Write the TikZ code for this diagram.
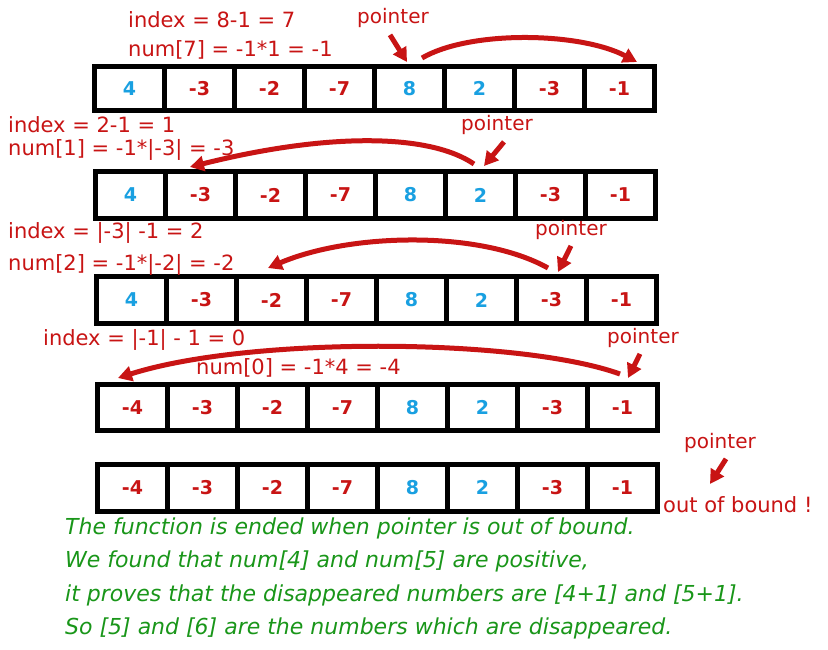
\documentclass[tikz,border=0pt]{standalone}
\usepackage{fontspec}
\setmainfont{DejaVu Sans}
\usetikzlibrary{arrows.meta}
\definecolor{annred}{RGB}{200,20,20}
\definecolor{numblue}{RGB}{25,160,225}
\definecolor{noteg}{RGB}{25,150,25}
\begin{document}
\begin{tikzpicture}[x=1pt,y=-1pt,
  cell/.style={draw, line width=5pt, minimum width=70pt, inner sep=0pt, outer sep=0pt,
    font=\bfseries\fontsize{19}{19}\selectfont},
  lbl/.style={font=\fontsize{21}{23}\selectfont, text=annred, inner sep=0pt, anchor=west},
  ptrlbl/.style={font=\fontsize{20}{22}\selectfont, text=annred, inner sep=0pt},
  ptr/.style={-{Triangle[length=14pt,width=15pt]}, line width=5pt, draw=annred},
  note/.style={font=\itshape\fontsize{22}{24}\selectfont, text=noteg, anchor=west, inner sep=0pt}]
\useasboundingbox (0,0) rectangle (828,650);
\fill[white] (0,0) rectangle (828,650);

% rows of cells
\foreach \r/\y/\h/\xl in {1/88.5/44/94.5, 2/195/47/95.5, 3/300/47/96.5}{
  \foreach \v/\c [count=\i from 0] in {4/numblue,-3/annred,-2/annred,-7/annred,8/numblue,2/numblue,-3/annred,-1/annred}{
    \node[cell, minimum height=\h pt, text=\c] (r\r c\i) at (\xl+35+70*\i, \y) {\v};
  }
}
\foreach \r/\y/\h/\xl in {4/407.5/46.5/97.5, 5/487.5/47/97.5}{
  \foreach \v/\c [count=\i from 0] in {-4/annred,-3/annred,-2/annred,-7/annred,8/numblue,2/numblue,-3/annred,-1/annred}{
    \node[cell, minimum height=\h pt, text=\c] (r\r c\i) at (\xl+35+70*\i, \y) {\v};
  }
}

% row 1 annotations
\node[lbl] (idx1) at (128,20) {index = 8-1 = 7};
\node[lbl] (num1) at (128,50) {num[7] = -1*1 = -1};
\node[ptrlbl] (ptr1) at (393,18) {pointer};
\coordinate (p1e) at (407,62);
\draw[ptr] ([shift={(-3,7)}]ptr1.south) -- (p1e);
\coordinate (c1s) at (422,58);
\coordinate (c1e) at (637,62);
\draw[ptr] (c1s) .. controls (470,30) and (580,32) .. (c1e);

% row 2 annotations
\node[lbl] (idx2) at (8,125) {index = 2-1 = 1};
\node[lbl] (num2) at (8,150) {num[1] = -1*|-3| = -3};
\node[ptrlbl] (ptr2) at (497,125) {pointer};
\coordinate (p2e) at (484,166);
\draw[ptr] ([shift={(7,7)}]ptr2.south) -- (p2e);
\coordinate (c2s) at (474,164);
\coordinate (c2e) at (190,167);
\draw[ptr] (c2s) .. controls (430,134) and (330,132) .. (c2e);

% row 3 annotations
\node[lbl] (idx3) at (8,233) {index = |-3| -1 = 2};
\node[lbl] (num3) at (8,265) {num[2] = -1*|-2| = -2};
\node[ptrlbl] (ptr3) at (571,230) {pointer};
\coordinate (p3e) at (558,272);
\draw[ptr] ([shift={(0,6)}]ptr3.south) -- (p3e);
\coordinate (c3s) at (548,268);
\coordinate (c3e) at (268,268);
\draw[ptr] (c3s) .. controls (480,230) and (350,233) .. (c3e);

% row 4 annotations
\node[lbl] (idx4) at (43,340) {index = |-1| - 1 = 0};
\node[lbl] (num4) at (196,368) {num[0] = -1*4 = -4};
\node[ptrlbl] (ptr4) at (643,338) {pointer};
\coordinate (p4e) at (628,378);
\draw[ptr] ([shift={(-3,6)}]ptr4.south) -- (p4e);
\coordinate (c4s) at (620,374);
\coordinate (c4e) at (118,378);
\draw[ptr] (c4s) .. controls (520,338) and (250,336) .. (c4e);

% row 5 annotations
\node[ptrlbl] (ptr5) at (720,443) {pointer};
\coordinate (p5e) at (710,484);
\draw[ptr] ([shift={(6,6)}]ptr5.south) -- (p5e);
\node[lbl] (oob) at (663,505) {out of bound !};

% notes
\node[note] (n1) at (65,528) {The function is ended when pointer is out of bound.};
\node[note] (n2) at (65,561) {We found that num[4] and num[5] are positive,};
\node[note] (n3) at (65,595) {it proves that the disappeared numbers are [4+1] and [5+1].};
\node[note] (n4) at (65,628) {So [5] and [6] are the numbers which are disappeared.};
\end{tikzpicture}
\end{document}
